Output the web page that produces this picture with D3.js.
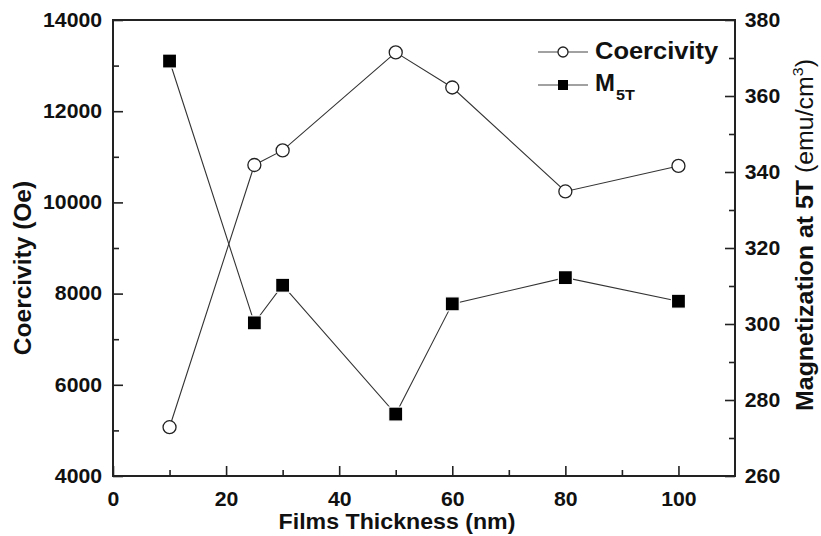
<!DOCTYPE html>
<html>
<head>
<meta charset="utf-8">
<script src="https://cdn.jsdelivr.net/npm/d3@7"></script>
<style>
  body { margin: 0; background: #fff; }
  text { font-family: "Liberation Sans", Arial, sans-serif; font-weight: bold; fill: #111; }
</style>
</head>
<body>
<div id="chart-area"></div>
<script>
// film thickness (nm)
var thickness = [10, 25, 30, 50, 60, 80, 100];
// coercivity (Oe), left axis
var coercivity = [5070, 10820, 11140, 13290, 12520, 10240, 10800];
// magnetization at 5T (emu/cm3), right axis
var m5t = [369.2, 300.3, 310.2, 276.3, 305.3, 312.2, 306.0];

var xTicks = [0, 20, 40, 60, 80, 100];
var yLeftTicks = [4000, 6000, 8000, 10000, 12000, 14000];
var yRightTicks = [260, 280, 300, 320, 340, 360, 380];

var width = 821, height = 536;
var margin = {top: 20, right: 86, bottom: 60, left: 113};

var svg = d3.select("#chart-area").append("svg")
    .attr("width", width)
    .attr("height", height);

var x = d3.scaleLinear().domain([0, 110]).range([margin.left, width - margin.right]);
var yL = d3.scaleLinear().domain([4000, 14000]).range([height - margin.bottom, margin.top]);
var yR = d3.scaleLinear().domain([260, 380]).range([height - margin.bottom, margin.top]);

var x0 = margin.left, x1 = width - margin.right;
var y0 = height - margin.bottom, y1 = margin.top;

// minor ticks first
svg.append("g")
    .attr("transform", "translate(0," + y0 + ")")
    .call(d3.axisBottom(x).tickValues([10, 30, 50, 70, 90]).tickSize(-6).tickFormat(""))
    .call(function(g) { g.select(".domain").remove(); });
svg.append("g")
    .attr("transform", "translate(" + x0 + ",0)")
    .call(d3.axisLeft(yL).tickValues([5000, 7000, 9000, 11000, 13000]).tickSize(-6).tickFormat(""))
    .call(function(g) { g.select(".domain").remove(); });
svg.append("g")
    .attr("transform", "translate(" + x1 + ",0)")
    .call(d3.axisRight(yR).tickValues([270, 290, 310, 330, 350, 370]).tickSize(-6).tickFormat(""))
    .call(function(g) { g.select(".domain").remove(); });

// major ticks
svg.append("g")
    .attr("transform", "translate(0," + y0 + ")")
    .call(d3.axisBottom(x).tickValues(xTicks).tickSize(-10).tickPadding(16).tickFormat(d3.format("d")));
svg.append("g")
    .attr("transform", "translate(" + x0 + ",0)")
    .call(d3.axisLeft(yL).tickValues(yLeftTicks).tickSize(-10).tickPadding(10).tickFormat(d3.format("d")));
svg.append("g")
    .attr("transform", "translate(" + x1 + ",0)")
    .call(d3.axisRight(yR).tickValues(yRightTicks).tickSize(-10).tickPadding(9).tickFormat(d3.format("d")));

svg.selectAll(".tick line").attr("stroke", "#222").attr("stroke-width", 1.6);
svg.selectAll(".domain").remove();
// the original lettering is a bit wider than Liberation Sans
svg.selectAll(".tick text")
    .style("font-size", "19.5px")
    .style("font-family", "Liberation Sans, Arial, sans-serif")
    .style("font-weight", "bold")
    .attr("fill", "#111")
    .attr("transform", "scale(1.09,1)");

// frame
svg.append("rect")
    .attr("x", x0).attr("y", y1)
    .attr("width", x1 - x0).attr("height", y0 - y1)
    .attr("fill", "none")
    .attr("stroke", "#222")
    .attr("stroke-width", 2);

// lines
var lineC = d3.line().x(function(d, i) { return x(thickness[i]); }).y(function(d) { return yL(d); });
var lineM = d3.line().x(function(d, i) { return x(thickness[i]); }).y(function(d) { return yR(d); });

svg.append("path").datum(coercivity)
    .attr("d", lineC).attr("fill", "none").attr("stroke", "#333").attr("stroke-width", 1.1);
svg.append("path").datum(m5t)
    .attr("d", lineM).attr("fill", "none").attr("stroke", "#333").attr("stroke-width", 1.1);

// markers
svg.selectAll("circle.c")
    .data(coercivity)
    .enter().append("circle")
    .attr("class", "c")
    .attr("cx", function(d, i) { return x(thickness[i]); })
    .attr("cy", function(d) { return yL(d); })
    .attr("r", 6.5)
    .attr("fill", "#fff")
    .attr("stroke", "#222")
    .attr("stroke-width", 1.3);

svg.selectAll("rect.m")
    .data(m5t)
    .enter().append("rect")
    .attr("class", "m")
    .attr("x", function(d, i) { return x(thickness[i]) - 7; })
    .attr("y", function(d) { return yR(d) - 7; })
    .attr("width", 14)
    .attr("height", 14)
    .attr("fill", "#000")
    .attr("stroke", "#fff")
    .attr("stroke-width", 1.2);

// legend
var lg = svg.append("g").attr("transform", "translate(538,52)");
lg.append("line").attr("x1", 0).attr("x2", 50).attr("y1", 0).attr("y2", 0).attr("stroke", "#444").attr("stroke-width", 1.1);
lg.append("circle").attr("cx", 25).attr("cy", 0).attr("r", 5).attr("fill", "#fff").attr("stroke", "#222").attr("stroke-width", 1.3);
lg.append("text").attr("transform", "translate(57,7) scale(1.04,1)").style("font-size", "24.5px").text("Coercivity");

lg.append("line").attr("x1", 0).attr("x2", 50).attr("y1", 33).attr("y2", 33).attr("stroke", "#444").attr("stroke-width", 1.1);
lg.append("rect").attr("x", 20).attr("y", 28).attr("width", 10).attr("height", 10).attr("fill", "#000");
var mt = lg.append("text").attr("transform", "translate(57,39) scale(1.04,1)").style("font-size", "23px");
mt.append("tspan").text("M");
mt.append("tspan").attr("dx", 1).attr("dy", 9).style("font-size", "15.5px").text("5T");

// axis titles
svg.append("text")
    .attr("transform", "translate(397,529) scale(1.03,1)")
    .attr("text-anchor", "middle")
    .style("font-size", "22.5px")
    .text("Films Thickness (nm)");

svg.append("text")
    .attr("transform", "translate(31,268) rotate(-90)")
    .attr("text-anchor", "middle")
    .style("font-size", "24.5px")
    .text("Coercivity (Oe)");

var rt = svg.append("text")
    .attr("transform", "translate(813,235) rotate(-90) scale(1.06,1)")
    .attr("text-anchor", "middle")
    .style("font-size", "23.5px");
rt.append("tspan").text("Magnetization at 5T ");
rt.append("tspan").style("font-weight", "normal").text("(emu/cm");
rt.append("tspan").attr("dy", -10).style("font-size", "15px").style("font-weight", "normal").text("3");
rt.append("tspan").attr("dy", 10).style("font-weight", "normal").text(")");
</script>
</body>
</html>
